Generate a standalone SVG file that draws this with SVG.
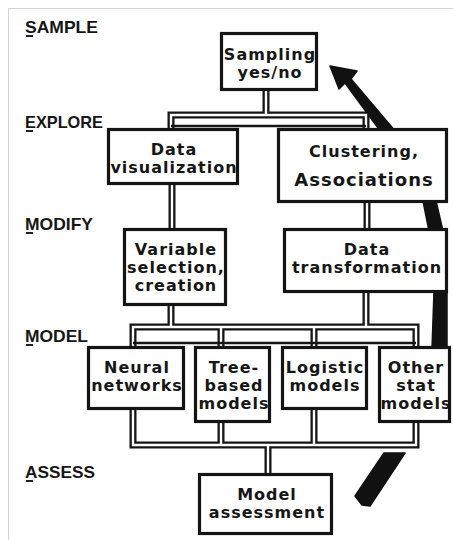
<svg xmlns="http://www.w3.org/2000/svg" width="453" height="540" viewBox="0 0 453 540">
<style>
.box{fill:#fff;stroke:#141414;stroke-width:3.2}
.t{font-family:"DejaVu Sans",sans-serif;font-weight:bold;font-size:16px;letter-spacing:1px;fill:#161616;text-anchor:middle}
.lbl{font-family:"Liberation Sans",Arial,sans-serif;font-weight:bold;font-size:17px;fill:#161616}
.po{fill:none;stroke:#151515;stroke-width:7;stroke-linejoin:miter}
.pi{fill:none;stroke:#fff;stroke-width:2.4;stroke-linejoin:miter}
.ln{fill:none;stroke:#151515;stroke-width:2.4}
.arr{fill:#111;stroke:#111;stroke-width:1.5;stroke-linejoin:round}
.ul{fill:#222}
</style>
<rect x="8.5" y="8.5" width="460" height="540" fill="#fff" stroke="#d4d4d4" stroke-width="1"/>

<g id="labels">
<text class="lbl" x="25" y="33" textLength="73" lengthAdjust="spacingAndGlyphs">SAMPLE</text>
<rect class="ul" x="26" y="35" width="7" height="2"/>
<text class="lbl" x="25" y="128" textLength="78" lengthAdjust="spacingAndGlyphs">EXPLORE</text>
<rect class="ul" x="26" y="130" width="7" height="2"/>
<text class="lbl" x="25" y="230" textLength="68" lengthAdjust="spacingAndGlyphs">MODIFY</text>
<rect class="ul" x="26" y="232" width="7" height="2"/>
<text class="lbl" x="25" y="342" textLength="63" lengthAdjust="spacingAndGlyphs">MODEL</text>
<rect class="ul" x="26" y="344" width="7" height="2"/>
<text class="lbl" x="25" y="478" textLength="70" lengthAdjust="spacingAndGlyphs">ASSESS</text>
<rect class="ul" x="26" y="480" width="7" height="2"/>
</g>

<g id="cycle-arrow">
<polygon class="arr" points="330,66 357,71 351,79 396,132 381,132 345,83 339,89"/>
<polygon class="arr" points="423,201 436,201 443,231 429,231"/>
<polygon class="arr" points="434,291 447,291 447,349 432,349"/>
<polygon class="arr" points="384,453 405,453 370,506 362,505 355,496"/>
</g>

<g id="connectors">
<g class="po">
<path d="M266,89 V115 M171,130 V115 H366 V130"/>
<path d="M172,183 V230"/>
<path d="M367,201 V230"/>
<path d="M171,304 V327 M366,291 V327 M133,348 V327 H416 V348 M221,327 V348 M314,327 V348"/>
<path d="M133,408 V445 H416 V421 M221,421 V445 M314,408 V445 M268,445 V475"/>
</g>
<g class="pi">
<path d="M266,89 V115 M171,130 V115 H366 V130"/>
<path d="M172,183 V230"/>
<path d="M367,201 V230"/>
<path d="M171,304 V327 M366,291 V327 M133,348 V327 H416 V348 M221,327 V348 M314,327 V348"/>
<path d="M133,408 V445 H416 V421 M221,421 V445 M314,408 V445 M268,445 V475"/>
</g>
<path class="ln" d="M171,126 H366"/>
<path class="ln" d="M133,343 H416"/>
</g>

<g id="sampling">
<rect class="box" x="221.5" y="33.5" width="95" height="56"/>
<text class="t" x="270" y="60">Sampling</text>
<text class="t" x="270" y="78">yes/no</text>
</g>
<g id="data-visualization">
<rect class="box" x="108.5" y="129.5" width="129" height="54"/>
<text class="t" x="174" y="155">Data</text>
<text class="t" x="174" y="173">visualization</text>
</g>
<g id="clustering">
<rect class="box" x="278.5" y="129.5" width="168" height="72"/>
<text class="t" x="364" y="157">Clustering,</text>
<text class="t" x="364" y="186" style="font-size:18px">Associations</text>
</g>
<g id="variable-selection">
<rect class="box" x="124.5" y="229.5" width="101" height="75"/>
<text class="t" x="176" y="255">Variable</text>
<text class="t" x="176" y="273">selection,</text>
<text class="t" x="176" y="291">creation</text>
</g>
<g id="data-transformation">
<rect class="box" x="284.5" y="229.5" width="162" height="62"/>
<text class="t" x="367" y="255">Data</text>
<text class="t" x="367" y="273">transformation</text>
</g>
<g id="neural-networks">
<rect class="box" x="88.5" y="347.5" width="95" height="61"/>
<text class="t" x="137" y="373">Neural</text>
<text class="t" x="137" y="391">networks</text>
</g>
<g id="tree-based-models">
<rect class="box" x="195.5" y="347.5" width="74" height="74"/>
<text class="t" x="234" y="373">Tree-</text>
<text class="t" x="234" y="391">based</text>
<text class="t" x="234" y="409">models</text>
</g>
<g id="logistic-models">
<rect class="box" x="282.5" y="347.5" width="84" height="61"/>
<text class="t" x="325" y="373">Logistic</text>
<text class="t" x="325" y="391">models</text>
</g>
<g id="other-stat-models">
<rect class="box" x="379.5" y="347.5" width="70" height="74"/>
<text class="t" x="416" y="373">Other</text>
<text class="t" x="416" y="391">stat</text>
<text class="t" x="416" y="409">models</text>
</g>
<g id="model-assessment">
<rect class="box" x="199.5" y="474.5" width="132" height="59"/>
<text class="t" x="267" y="500">Model</text>
<text class="t" x="267" y="518">assessment</text>
</g>
</svg>
